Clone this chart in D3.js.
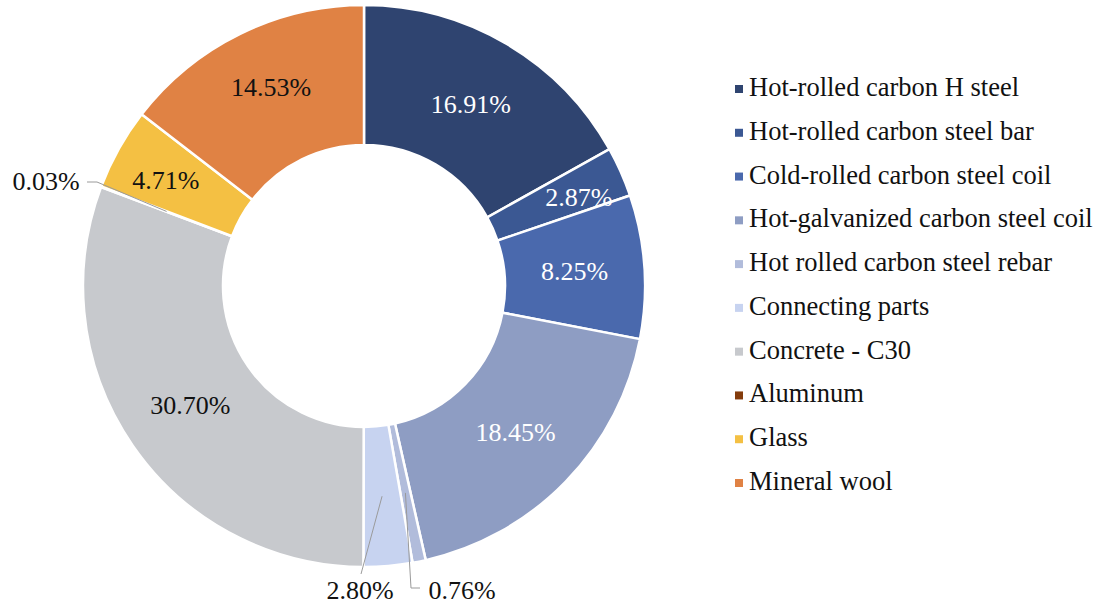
<!DOCTYPE html>
<html>
<head>
<meta charset="utf-8">
<script src="https://cdn.jsdelivr.net/npm/d3@7"></script>
<style>
  body { margin: 0; background: #fff; }
</style>
</head>
<body>
<svg></svg>
<script>
const width = 1100
const height = 604

// data
const materials = [
  'Hot-rolled carbon H steel',
  'Hot-rolled carbon steel bar',
  'Cold-rolled carbon steel coil',
  'Hot-galvanized carbon steel coil',
  'Hot rolled carbon steel rebar',
  'Connecting parts',
  'Concrete - C30',
  'Aluminum',
  'Glass',
  'Mineral wool',
]
const shares = [16.91, 2.87, 8.25, 18.45, 0.76, 2.8, 30.7, 0.03, 4.71, 14.53]
const colors = [
  '#2f4470', '#3b5893', '#4a69ad', '#8e9dc3', '#b1bcdb',
  '#c7d3f0', '#c7c9cd', '#843c0c', '#f4c043', '#e08244',
]

// label tweaks (Excel moved a few labels off the centroid)
const labelNudge = {
  1: [22, -3],
  8: [-14, -3],
  9: [0, -9],
}
// slices whose label sits outside with a leader line
const outsideLabels = {
  4: { text: [462, 590], line: (c) => [c, [411, 588], [420, 588]] },
  5: { text: [360, 590], line: (c) => [[361, 574], c] },
  7: { text: [46, 181], line: (c) => [[87, 182], [97, 182], c] },
}

const cx = 364
const cy = 286
const outerR = 281
const innerR = 141
const fontFamily = '"Liberation Serif"'

const svg = d3.select('svg').attr('width', width).attr('height', height)

const pie = d3.pie().sort(null).value((d) => d)
const arcs = pie(shares)
const arc = d3.arc().innerRadius(innerR).outerRadius(outerR)
const color = d3.scaleOrdinal().domain(materials).range(colors)

const g = svg.append('g').attr('transform', `translate(${cx},${cy})`)

g.selectAll('.slice')
  .data(arcs)
  .enter()
  .append('path')
  .attr('class', 'slice')
  .attr('d', arc)
  .attr('fill', (d, i) => color(materials[i]))
  .attr('stroke', '#fff')
  .attr('stroke-width', 2.5)
  .attr('stroke-linejoin', 'miter')

const fmt = (v) => v.toFixed(2) + '%'
const darkText = [6, 8, 9]

arcs.forEach((d, i) => {
  const c = arc.centroid(d)
  const out = outsideLabels[i]
  if (out) {
    const pts = out.line([c[0] + cx, c[1] + cy])
    svg.append('path')
      .attr('d', d3.line()(pts))
      .attr('fill', 'none')
      .attr('stroke', '#9a9a9a')
      .attr('stroke-width', 1)
    svg.append('text')
      .attr('x', out.text[0])
      .attr('y', out.text[1])
      .attr('dy', '0.33em')
      .attr('text-anchor', 'middle')
      .style('font-family', fontFamily)
      .style('font-size', '26px')
      .attr('fill', '#111')
      .text(fmt(shares[i]))
    return
  }
  const n = labelNudge[i] || [0, 0]
  g.append('text')
    .attr('x', c[0] + n[0])
    .attr('y', c[1] + n[1])
    .attr('dy', '0.33em')
    .attr('text-anchor', 'middle')
    .style('font-family', fontFamily)
    .style('font-size', '26px')
    .attr('fill', darkText.includes(i) ? '#111' : '#fff')
    .text(fmt(shares[i]))
})

// legend
const legendY = d3.scalePoint().domain(materials).range([96, 490])
const legend = svg.append('g')
const items = legend.selectAll('g')
  .data(materials)
  .enter()
  .append('g')
  .attr('transform', (d) => `translate(735,${legendY(d)})`)
items.append('rect')
  .attr('x', 0)
  .attr('y', -11)
  .attr('width', 8)
  .attr('height', 8)
  .attr('fill', (d) => color(d))
items.append('text')
  .attr('x', 14)
  .attr('y', 0)
  .style('font-family', fontFamily)
  .style('font-size', '26.5px')
  .attr('fill', '#111')
  .text((d) => d)
</script>
</body>
</html>
